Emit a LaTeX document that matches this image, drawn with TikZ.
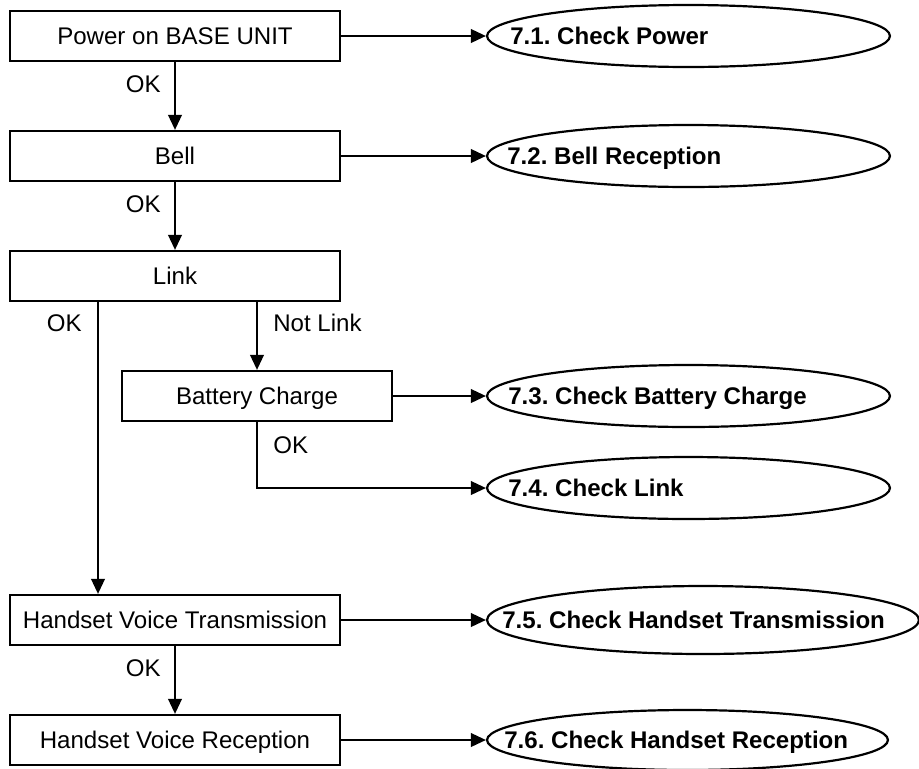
\documentclass[tikz,border=0pt]{standalone}
\usepackage{fontspec}
\setmainfont{Liberation Sans}
\usetikzlibrary{shapes.geometric,arrows.meta}
\frenchspacing
\begin{document}
\begin{tikzpicture}[x=0.02cm,y=-0.02cm,
    every node/.style={font=\fontsize{13.7}{16}\selectfont},
    box/.style={shape=rectangle,draw=black,line width=1.25pt,minimum width=6.6cm,minimum height=1cm,inner sep=0pt,text height=9.8pt,text depth=0pt},
    chk/.style={shape=ellipse,draw=black,line width=1.25pt,minimum width=8.06cm,minimum height=1.24cm,inner sep=0pt},
    chkn/.style={anchor=base west,inner sep=0pt,font=\fontsize{13.7}{16}\selectfont\bfseries},
    lbl/.style={inner sep=0pt,text height=9.8pt,text depth=0pt},
    arr/.style={draw=black,line width=1.25pt,-{Triangle[length=0.3cm,width=0.27cm]}}]

     \useasboundingbox (0,0) rectangle (919,768);

     \node[box] (B1) at (175,36){Power on BASE UNIT};
     \node[box] (B2) at (175,156){Bell};
     \node[box] (B3) at (175,276){Link};
     \node[box,minimum width=5.4cm] (B4) at (257,396){Battery Charge};
     \node[box] (B5) at (175,620){Handset Voice Transmission};
     \node[box] (B6) at (175,740){Handset Voice Reception};

     \node[chk] (C1) at (688.5,36){};
     \node[chkn] (C1n) at (510,44.5){7.1. Check Power};
     \node[chk] (C2) at (688.5,156){};
     \node[chkn] (C2n) at (507,164.5){7.2. Bell Reception};
     \node[chk] (C3) at (688.5,396){};
     \node[chkn] (C3n) at (508,404.5){7.3. Check Battery Charge};
     \node[chk] (C4) at (688.5,488){};
     \node[chkn] (C4n) at (508,496.5){7.4. Check Link};
     \node[chk,minimum width=8.64cm,minimum height=1.36cm] (C5) at (703,620){};
     \node[chkn] (C5n) at (502,628.5){7.5. Check Handset Transmission};
     \node[chk,minimum width=8.02cm,minimum height=1.2cm] (C6) at (687.5,740){};
     \node[chkn] (C6n) at (504,748.5){7.6. Check Handset Reception};

     \node[lbl,anchor=east] (O1) at (161,84){OK};
     \node[lbl,anchor=east] (O2) at (161,204){OK};
     \node[lbl,anchor=east] (O3) at (82,323){OK};
     \node[lbl,anchor=west] (N3) at (273,323){Not Link};
     \node[lbl,anchor=west] (O4) at (273,445){OK};
     \node[lbl,anchor=east] (O5) at (161,668){OK};

     \coordinate (K) at (98,301);

     \draw[arr] (B1) -- (B2);
     \draw[arr] (B2) -- (B3);
     \draw[arr] (B3.south -| B4.north) -- (B4.north);
     \draw[arr] (B3.south -| K) -- (B5.north -| K);
     \draw[arr] (B5) -- (B6);

     \draw[arr] (B1) -- (C1);
     \draw[arr] (B2) -- (C2);
     \draw[arr] (B4) -- (C3);
     \draw[arr] (B4.south) |- (C4.west);
     \draw[arr] (B5) -- (C5);
     \draw[arr] (B6) -- (C6);

\end{tikzpicture}
\end{document}
